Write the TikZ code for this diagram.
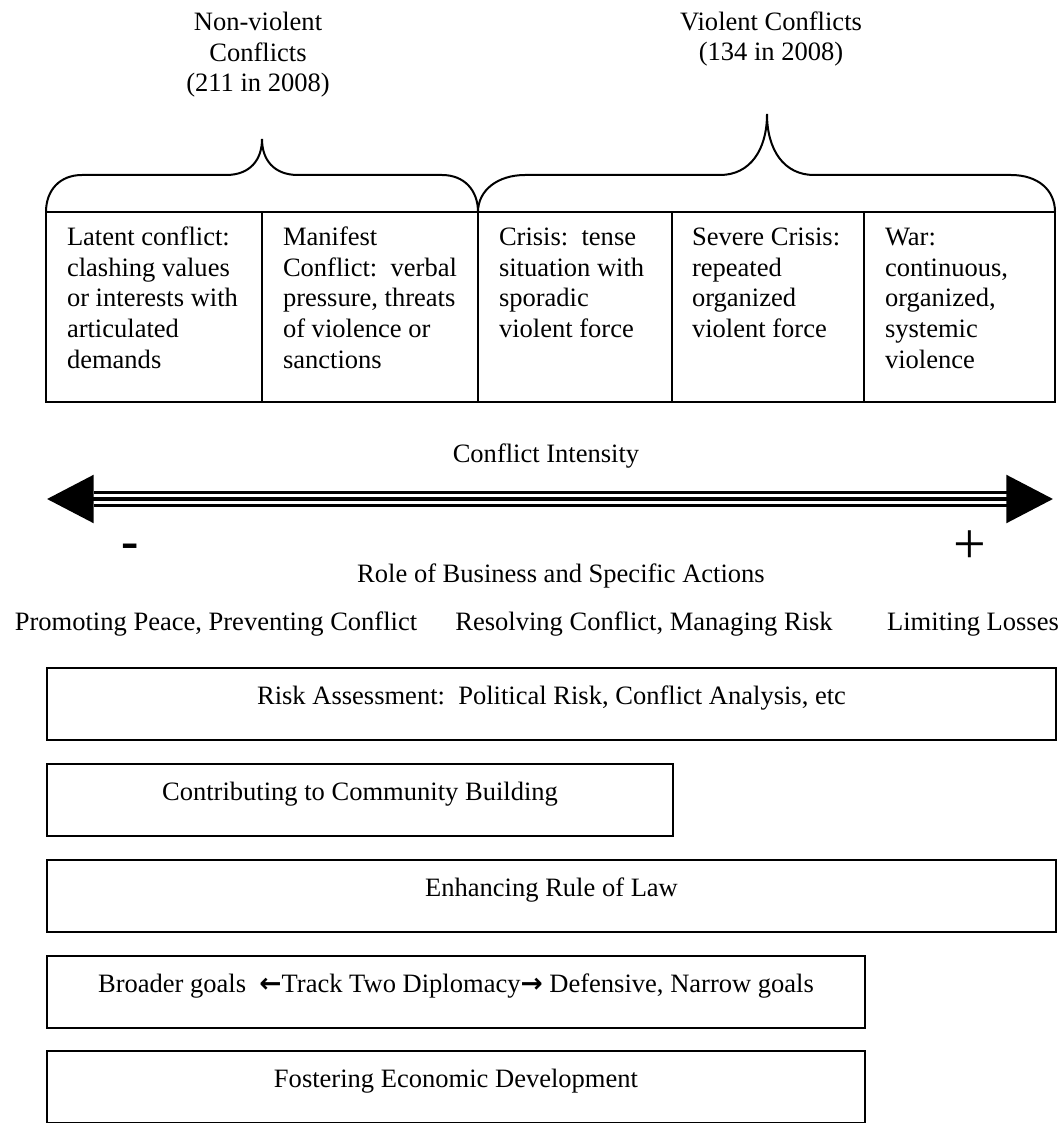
\documentclass[tikz,border=0pt]{standalone}
\usepackage{fontspec}
\setmainfont{Liberation Serif}
\newfontfamily\arrowfont{DejaVu Sans}
\usetikzlibrary{arrows.meta}

\begin{document}
\begin{tikzpicture}[x=0.75pt, y=-0.75pt, line width=1.5pt,
  txt/.style={font=\fontsize{19.9pt}{22.9pt}\selectfont, inner sep=0pt},
  lbl/.style={txt, anchor=base, align=center},
  cell/.style={txt, anchor=base west, align=left},
  actbox/.style={txt, draw, rectangle, anchor=north west,
    minimum height=54pt, text height=9pt, text depth=9pt},
  bigarrow/.style={<->, >={Triangle[length=35pt, width=35.5pt]}}]
  \useasboundingbox (0,0) rectangle (1060,1123);

  % headings over the braces (base = last line)
  \node[lbl] (nonviol) at (258,92) {Non-violent\\Conflicts\\(211 in 2008)};
  \node[lbl] (viol) at (771,61) {Violent Conflicts\\(134 in 2008)};

  % braces
  \draw (46,212) .. controls (46,190) and (60,175) .. (82,175) -- (226,175)
    .. controls (250,175) and (262,160) .. (262,139)
    .. controls (262,160) and (274,175) .. (298,175) -- (442,175)
    .. controls (464,175) and (478,190) .. (478,212);
  \draw (478,212) .. controls (478,190) and (498,175) .. (525,175) -- (720,175)
    .. controls (750,175) and (767,150) .. (767,114)
    .. controls (767,150) and (784,175) .. (814,175) -- (1011,175)
    .. controls (1038,175) and (1055,190) .. (1055,212);

  % stages of conflict
  \draw (46,212) rectangle (1055,402);
  \foreach \x in {262,478,672,864}
    \draw (\x,212) -- (\x,402);
  \node[cell] (latent) at (66,368) {Latent conflict:\\clashing values\\or interests with\\articulated\\demands};
  \node[cell] (manifest) at (282,368) {Manifest\\Conflict:\ \ verbal\\pressure, threats\\of violence or\\sanctions};
  \node[cell] (crisis) at (498,337.5) {Crisis:\ \ tense\\situation with\\sporadic\\violent force};
  \node[cell] (severe) at (691,337.5) {Severe Crisis:\\repeated\\organized\\violent force};
  \node[cell] (war) at (884,368) {War:\\continuous,\\organized,\\systemic\\violence};

  % intensity axis
  \node[lbl] (intens) at (546,462) {Conflict Intensity};
  \coordinate (lo) at (47,499);
  \coordinate (hi) at (1053,499);
  \draw[line width=3.4pt, bigarrow] (lo) -- (hi);
  \draw[line width=1.7pt, shorten <=35pt, shorten >=34.5pt]
    ([yshift=4.9pt]lo) -- ([yshift=4.9pt]hi);
  \draw[line width=1.7pt, shorten <=35pt, shorten >=34.5pt]
    ([yshift=-4.9pt]lo) -- ([yshift=-4.9pt]hi);
  \node[anchor=base, inner sep=0pt, font=\fontsize{39pt}{40pt}\selectfont\bfseries] (minus) at (130.5,558) {-};
  \node[anchor=base, inner sep=0pt, font=\fontsize{43.5pt}{44pt}\selectfont] (plus) at (970,563) {+};

  % business roles
  \node[lbl] (role) at (561,582) {Role of Business and Specific Actions};
  \node[lbl] (peace) at (216,630) {Promoting Peace, Preventing Conflict};
  \node[lbl] (resolve) at (644,630) {Resolving Conflict, Managing Risk};
  \node[lbl] (losses) at (973,630) {Limiting Losses};

  % actions
  \node[actbox, minimum width=756.75pt] (risk) at (46,667) {Risk Assessment:\ \ Political Risk, Conflict Analysis, etc};
  \node[actbox, minimum width=469.5pt] (community) at (46,763) {Contributing to Community Building};
  \node[actbox, minimum width=756.75pt] (law) at (46,859) {Enhancing Rule of Law};
  \node[actbox, minimum width=613.5pt] (track) at (46,955) {Broader goals\ \ {\arrowfont\bfseries ←}Track Two Diplomacy{\arrowfont\bfseries →} Defensive, Narrow goals};
  \node[actbox, minimum width=613.5pt] (econ) at (46,1050) {Fostering Economic Development};
\end{tikzpicture}
\end{document}
